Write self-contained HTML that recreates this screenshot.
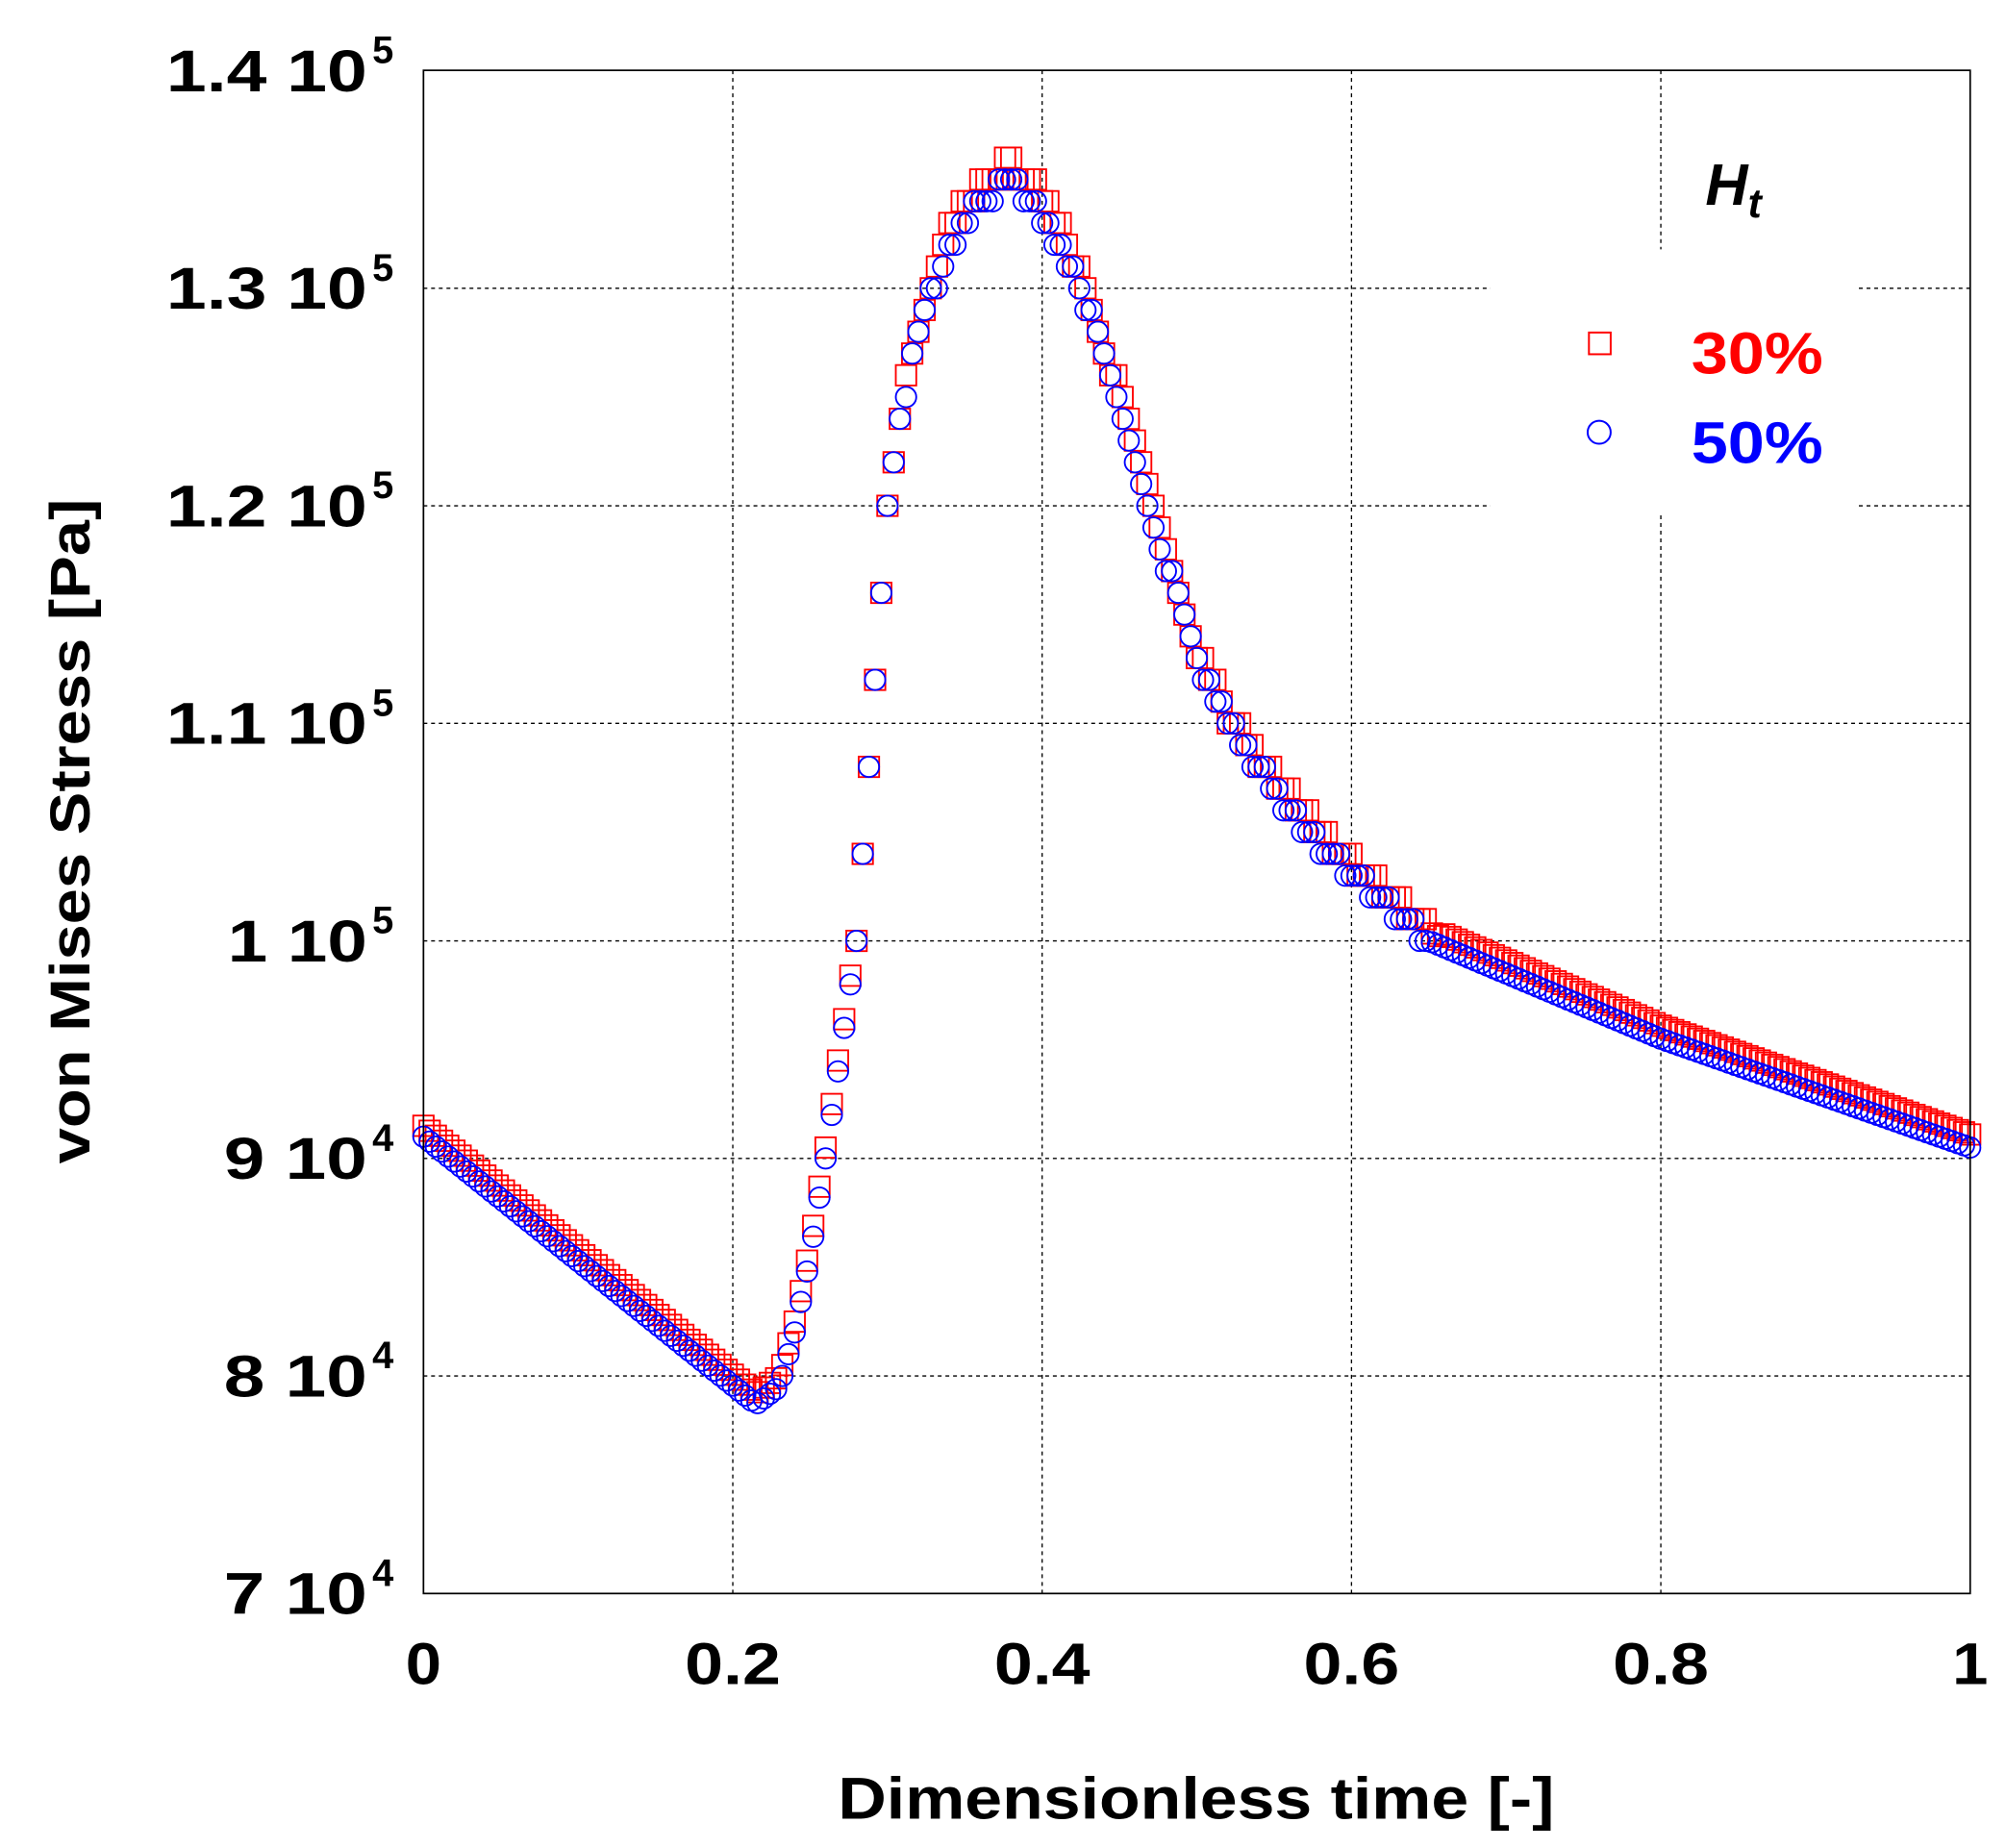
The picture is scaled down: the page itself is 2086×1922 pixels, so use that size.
<!DOCTYPE html>
<html><head><meta charset="utf-8"><style>
html,body{margin:0;padding:0;background:#fff}
svg{display:block}
text{font-family:"Liberation Sans",sans-serif;font-weight:bold}
</style></head><body>
<svg id="s" width="2086" height="1922" viewBox="0 0 1568 1445" preserveAspectRatio="none" xmlns="http://www.w3.org/2000/svg">
<rect width="1568" height="1445" fill="#fff"/>
<g id="grid" stroke="#000" stroke-width="1" stroke-dasharray="3,3"></g>
<rect x="1165" y="195" width="285" height="205" fill="#fff"/>
<g id="pts"></g>
<rect x="331" y="55" width="1209" height="1191" fill="none" stroke="#000" stroke-width="1.3"/>
<g id="lab" font-size="44" fill="#000"></g>
<text x="655" y="1422" font-size="46" textLength="560" lengthAdjust="spacingAndGlyphs">Dimensionless time [-]</text>
<text transform="translate(70,910) rotate(-90)" font-size="44" textLength="520" lengthAdjust="spacingAndGlyphs">von Mises Stress [Pa]</text>
<text x="1333" y="160" font-size="46" font-style="italic">H<tspan font-size="32" dy="10">t</tspan></text>
<rect x="1242" y="260" width="17" height="17" fill="none" stroke="#f00" stroke-width="1.5"/>
<text x="1322" y="292" font-size="46" fill="#f00" textLength="103" lengthAdjust="spacingAndGlyphs">30%</text>
<circle cx="1250" cy="338" r="9" fill="none" stroke="#00f" stroke-width="1.5"/>
<text x="1322" y="362" font-size="46" fill="#00f" textLength="103" lengthAdjust="spacingAndGlyphs">50%</text>
</svg>
<script>
var NS="http://www.w3.org/2000/svg";
function X(t){return 331+t*1209}
function Y(v){return 1246-(v-0.7)*1701}
function el(n,a,p){var e=document.createElementNS(NS,n);for(var k in a)e.setAttribute(k,a[k]);p.appendChild(e);return e}
var g=document.getElementById('grid');
for(var i=1;i<5;i++){el('line',{x1:X(i*.2),x2:X(i*.2),y1:55,y2:1246},g)}
for(var i=1;i<7;i++){var y=Y(0.7+i*.1);el('line',{x1:331,x2:1540,y1:y,y2:y},g)}
var lab=document.getElementById('lab');
var yl=[["7","4",140],["8","4",140],["9","4",140],["1","5",137],["1.1","5",185],["1.2","5",185],["1.3","5",185],["1.4","5",185]];
yl.forEach(function(l,i){var y=Y(0.7+i*.1)+16;
 var w=l[2]-28;
 var t=el('text',{x:315-l[2],y:y,textLength:w,lengthAdjust:'spacingAndGlyphs','font-size':46},lab);
 t.textContent=l[0]+' 10';
 var s=el('text',{x:315-24,y:y-22,'font-size':30},lab); s.textContent=l[1];});
[["0",28],["0.2",75],["0.4",75],["0.6",75],["0.8",75],["1",28]].forEach(function(s,i){el('text',{x:X(i*.2)-s[1]/2,y:1317,textLength:s[1],lengthAdjust:'spacingAndGlyphs','font-size':46},lab).textContent=s[0];});
var K=[[0,.91],[.215,.787],[.23,.795],[.24,.82],[.25,.855],[.26,.90],[.27,.95],[.28,1.00],[.29,1.10],[.30,1.20],[.31,1.245],[.32,1.28],[.34,1.32],[.36,1.34],[.38,1.35],[.40,1.335],[.42,1.31],[.44,1.27],[.46,1.225],[.48,1.175],[.50,1.13],[.52,1.10],[.55,1.07],[.58,1.045],[.62,1.02],[.65,1.0],[.7,.985],[.8,.955],[.9,.93],[1,.905]];
function f(t){for(var i=1;i<K.length;i++){if(t<=K[i][0]){var a=K[i-1],b=K[i];return a[1]+(b[1]-a[1])*(t-a[0])/(b[0]-a[0]);}}return K[K.length-1][1]}
var p=document.getElementById('pts');
for(var t=0;t<=1.0001;t+=0.004){
 var v=f(t), vr=v+(t<.27?0.005:(t>.66?0.006:(t>.33&&t<.42?0.008:0.004)));
 if(v>1.0&&t>.27){vr=Math.round(vr*100)/100;}
 el('rect',{x:X(t)-8,y:Y(vr)-8,width:16,height:16,fill:'none',stroke:'#f00','stroke-width':1.4},p);
}
for(var t=0;t<=1.0001;t+=0.004){
 var v=f(t); if(v>1.0&&t>.27)v=Math.round(v*100)/100;
 el('circle',{cx:X(t),cy:Y(v),r:8,fill:'none',stroke:'#00f','stroke-width':1.4},p);
}
</script>
</body></html>
